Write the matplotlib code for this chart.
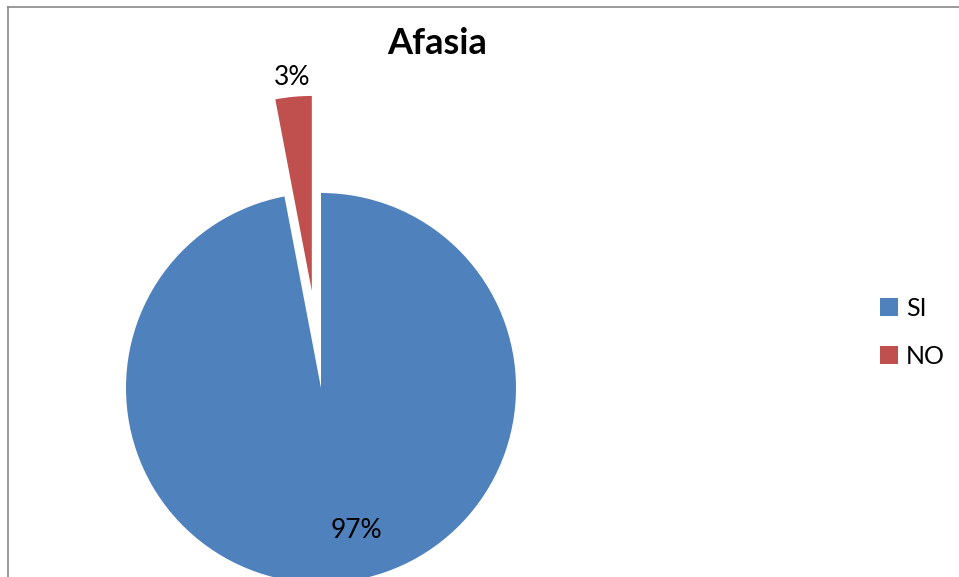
import matplotlib.pyplot as plt
from matplotlib.lines import Line2D
from matplotlib.patches import Patch
import numpy as np

categories = ["SI", "NO"]
values = [97, 3]
colors = ["#4F81BD", "#C0504D"]
explode = [0, 0.5]

W, H = 959, 577
fig = plt.figure(figsize=(W / 100, H / 100), dpi=100)
plt.rcParams["font.family"] = ["Lato", "DejaVu Sans"]

# axes box: pie centre at (321, 388) px, radius 195 px
R = 195
cx, cy = 321, 388
x0, x1 = -1.0, 1.0
y0, y1 = -(H - cy) / R, 1.55
ax = fig.add_axes([(cx + x0 * R) / W, 0, (x1 - x0) * R / W, (y1 - y0) * R / H])

wedges, texts, autotexts = ax.pie(values, colors=colors, startangle=90,
                                  counterclock=False, explode=explode,
                                  autopct="%1.0f%%", pctdistance=0.75,
                                  wedgeprops=dict(linewidth=0),
                                  textprops=dict(fontsize=19, color="black"))
ax.set_xlim(x0, x1)
ax.set_ylim(y0, y1)
ax.set_aspect("auto")

# Excel-like label placement
autotexts[0].set_position((0.18, -0.73))
w = wedges[1]
mid = np.deg2rad((w.theta1 + w.theta2) / 2)
c = w.center
autotexts[1].set_position((c[0] + 1.1 * np.cos(mid), c[1] + 1.1 * np.sin(mid)))

fig.text(437 / W, 1 - 43 / H, "Afasia", fontsize=26, fontweight="bold",
         ha="center", va="center")

handles = [Patch(facecolor=col, edgecolor="none") for col in colors]
fig.legend(handles, categories, loc="center left", bbox_to_anchor=(862 / W, 1 - 332 / H),
           frameon=False, fontsize=18, handlelength=0.75, handleheight=0.75,
           handletextpad=0.3, labelspacing=1.0, borderpad=0.2)

# outer frame (left and top edges visible)
fig.add_artist(Line2D([8 / W, 8 / W], [0, 1 - 7 / H], color="#888888", lw=1.2))
fig.add_artist(Line2D([8 / W, 1], [1 - 7 / H, 1 - 7 / H], color="#888888", lw=1.2))

fig.savefig("out.png", dpi=100)
